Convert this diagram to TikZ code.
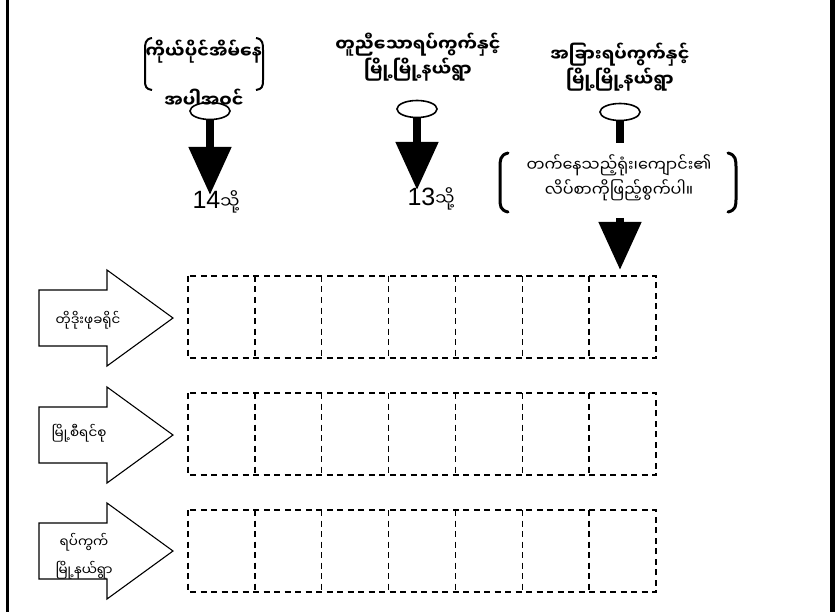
\documentclass[tikz,border=0pt]{standalone}
\usepackage{fontspec}
\setmainfont{Liberation Sans}
\newfontfamily\mya[Script=Myanmar]{Noto Sans Myanmar UI}
\usetikzlibrary{positioning,shapes.geometric,arrows.meta}

\begin{document}
\begin{tikzpicture}[x=1pt,y=-1pt,
    title/.style={font=\mya\bfseries\fontsize{17.5}{26}\selectfont,align=center,inner sep=0pt},
    note/.style={font=\mya\fontsize{16}{25}\selectfont,align=center,inner sep=0pt},
    label/.style={font=\mya\fontsize{13.5}{28}\selectfont,align=center,inner sep=0pt},
    num/.style={font=\fontsize{25}{27}\selectfont,inner sep=0pt},
    pin/.style={ellipse,draw,line width=1.6pt,minimum width=40pt,minimum height=17pt,inner sep=0pt},
    stem/.style={line width=8pt,-{Triangle[width=41pt,length=48pt]}},
    bar/.style={line width=8pt},
    brace/.style={line width=3pt,line cap=round},
    cell/.style={draw,line width=1.4pt,dash pattern=on 6pt off 4.5pt},
    bigarrow/.style={draw,line width=1.1pt,fill=white}
    ]
\useasboundingbox (0,0) rectangle (835,612);

% side borders
\draw[line width=3.5pt] (7.5,0) -- (7.5,612);
\draw[line width=5pt] (832.5,0) -- (832.5,612);

% left column
\node[title] (ownA) at (204,52) {ကိုယ်ပိုင်အိမ်နေ};
\node[title] (ownB) at (204,98) {အပါအဝင်};
\draw[line width=2pt] (152,38) .. controls (145,39) and (145,44) .. (145,50) -- (145,80) .. controls (145,87) and (146,89) .. (152,90);
\draw[line width=2pt] (256,38) .. controls (263,39) and (263,44) .. (263,50) -- (263,80) .. controls (263,87) and (262,89) .. (256,90);
\node[pin] (pinA) at (210,111) {};
\coordinate (tipA) at (210,195);
\draw[stem] (pinA.south) -- (tipA);
\node[num] (goA) at (216,202) {14{\mya\fontsize{17}{19}\selectfont သို့}};

% middle column
\node[title] (sameA) at (418,45) {တူညီသောရပ်ကွက်နှင့်};
\node[title] (sameB) at (418,70) {မြို့မြို့နယ်ရွာ};
\node[pin] (pinB) at (417,109) {};
\coordinate (tipB) at (417,190);
\draw[stem] (pinB.south) -- (tipB);
\node[num] (goB) at (431,199) {13{\mya\fontsize{17}{19}\selectfont သို့}};

% right column
\node[title] (otherA) at (620,55) {အခြားရပ်ကွက်နှင့်};
\node[title] (otherB) at (620,80) {မြို့မြို့နယ်ရွာ};
\node[pin] (pinC) at (620,112) {};
\coordinate (endC) at (620,143);
\draw[bar] (pinC.south) -- (endC);
\node[note] (fillA) at (619,165) {တက်နေသည့်ရုံး၊ကျောင်း၏};
\node[note] (fillB) at (619,190) {လိပ်စာကိုဖြည့်စွက်ပါ။};
\draw[brace] (508,153) .. controls (500,155) and (500,160) .. (500,168) -- (500,198) .. controls (500,206) and (500,210) .. (508,212);
\draw[brace] (728,153) .. controls (736,155) and (736,160) .. (736,168) -- (736,198) .. controls (736,206) and (736,210) .. (728,212);
\coordinate (startC) at (620,218);
\coordinate (tipC) at (620,270);
\draw[stem] (startC) -- (tipC);

% rows of arrows and dashed cells
\foreach \name/\top/\mid [count=\r] in {row1/276/318, row2/393/435, row3/510/551} {
  \draw[bigarrow] (39,\mid-28) -- (107,\mid-28) -- (107,\mid-48) -- (173,\mid)
        -- (107,\mid+48) -- (107,\mid+28) -- (39,\mid+28) -- cycle;
  \draw[cell] (188,\top) rectangle (656,\top+82);
  \foreach \c in {1,...,6}
    \draw[cell] (188+\c*66.857,\top) -- (188+\c*66.857,\top+82);
}
\node[label] (lblA) at (88,320) {တိုဒိုးဖုခရိုင်};
\node[label] (lblB) at (79,433) {မြို့စီရင်စု};
\node[label] (lblC) at (84,556) {ရပ်ကွက်\\မြို့နယ်ရွာ};
\end{tikzpicture}
\end{document}
